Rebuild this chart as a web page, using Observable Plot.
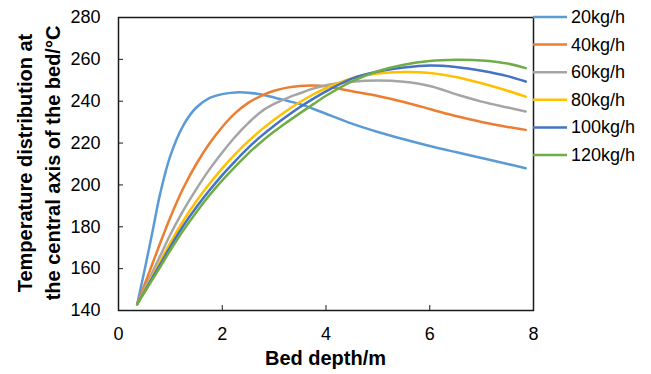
<!DOCTYPE html>
<html>
<head>
<meta charset="utf-8">
<script src="https://cdn.jsdelivr.net/npm/d3@7"></script>
<script src="https://cdn.jsdelivr.net/npm/@observablehq/plot@0.6"></script>
<style>
  html, body { margin: 0; padding: 0; background: #fff; }
  #chart { width: 651px; height: 374px; }
  svg text { font-family: "Liberation Sans", Arial, sans-serif; }
</style>
</head>
<body>
<div id="chart"></div>
<script>
// Bed depth (m) at which the temperature profiles are sampled
const depth = [0.36, 0.5, 0.65, 0.8, 1.0, 1.25, 1.5, 1.75, 2.0, 2.25, 2.5, 2.75, 3.0,
               3.25, 3.5, 3.75, 4.0, 4.5, 5.0, 5.5, 6.0, 6.5, 7.0, 7.5, 7.85];

// Temperature on the central axis of the bed (°C), one array per feed rate
const t20  = [143, 159, 177, 195.5, 214, 228.5, 237, 241.5, 243.4, 244.2, 244.1, 243.2, 241.8,
              240.2, 238.6, 236.4, 234, 229.3, 225.3, 221.8, 218.6, 215.7, 212.9, 210, 208];
const t40  = [143, 152.2, 162.1, 172, 184.6, 198.5, 210, 219.7, 227.7, 234.3, 239.2, 242.6, 245,
              246.5, 247.3, 247.5, 247.1, 244.8, 242.5, 239.6, 236.3, 232.9, 230.1, 227.7, 226.3];
const t60  = [143, 150.3, 158.1, 165.9, 176.3, 187.8, 198, 207.3, 215.5, 223, 229.5, 235, 238.7,
              241.5, 243.8, 246, 247.6, 249.3, 249.9, 249.3, 247.3, 243.4, 239.8, 237, 235.1];
const t80  = [143, 149.4, 156.3, 163.2, 172.4, 182.9, 192.2, 200.4, 207.9, 214.7, 220.8, 226.3, 231.2,
              235.6, 239.6, 243.2, 246.2, 251, 253.2, 253.9, 253.5, 251.6, 248.6, 245, 242.2];
const t100 = [143, 149, 155.5, 161.9, 170.5, 180.5, 189.3, 197.3, 204.7, 211.4, 217.7, 223.3, 228.3,
              232.9, 237.2, 241.1, 244.7, 250.8, 254.2, 256.1, 257.1, 256.4, 254.6, 252, 249.4];
const t120 = [143, 148.6, 154.6, 160.6, 168.8, 178.3, 187, 195, 202.2, 208.8, 215, 220.5, 225.5,
              230, 234.3, 238.5, 242.6, 249.5, 254.3, 257.4, 259.2, 259.8, 259.5, 258, 255.8];

const seriesLabels = ["20kg/h", "40kg/h", "60kg/h", "80kg/h", "100kg/h", "120kg/h"];
const xTicks = [0, 2, 4, 6, 8];
const yTicks = [140, 160, 180, 200, 220, 240, 260, 280];

// Long-format table for Plot
const seriesValues = [t20, t40, t60, t80, t100, t120];
const rows = seriesLabels.flatMap((name, i) =>
  depth.map((d, j) => ({series: name, depth: d, temp: seriesValues[i][j]})));

const palette = ["#5B9BD5", "#ED7D31", "#A5A5A5", "#FFC000", "#4472C4", "#70AD47"];
const axisColor = "#1a1a1a";

const chart = Plot.plot({
  width: 651,
  height: 374,
  marginLeft: 118,
  marginRight: 118,
  marginTop: 17,
  marginBottom: 64,
  style: {fontFamily: '"Liberation Sans", Arial, sans-serif', fontSize: "18px", color: axisColor, background: "#fff"},
  x: {domain: [0, 8]},
  y: {domain: [140, 280]},
  color: {domain: seriesLabels, range: palette},
  marks: [
    Plot.line(rows, {x: "depth", y: "temp", z: "series", stroke: "series", strokeWidth: 2.5, curve: "catmull-rom"}),
    Plot.frame({stroke: axisColor, strokeWidth: 1.5}),
    Plot.axisX(xTicks, {tickSize: -5, tickPadding: 22, label: null, fontSize: 18, fill: "#000"}),
    Plot.axisY(yTicks, {tickSize: -5, tickPadding: 23, label: null, fontSize: 18, fill: "#000"})
  ]
});

document.getElementById("chart").appendChild(chart);

const svg = d3.select(chart);

// Axis titles
svg.append("text")
  .attr("x", 325.5).attr("y", 365)
  .attr("text-anchor", "middle")
  .attr("font-size", 20).attr("font-weight", "bold").attr("fill", "#000")
  .text("Bed depth/m");

const yTitle = svg.append("g").attr("transform", "translate(0,163) rotate(-90)");
yTitle.append("text")
  .attr("x", 0).attr("y", 25)
  .attr("text-anchor", "middle").attr("dominant-baseline", "central")
  .attr("font-size", 20).attr("font-weight", "bold").attr("fill", "#000")
  .text("Temperature distribution at");
yTitle.append("text")
  .attr("x", 0).attr("y", 53)
  .attr("text-anchor", "middle").attr("dominant-baseline", "central")
  .attr("font-size", 20).attr("font-weight", "bold").attr("fill", "#000")
  .text("the central axis of the bed/°C");

// Legend on the right of the plot frame
const legend = svg.append("g").attr("transform", "translate(533,17)");
seriesLabels.forEach((name, i) => {
  const row = legend.append("g").attr("transform", `translate(0,${i * 27.6})`);
  row.append("line")
    .attr("x1", 0).attr("x2", 34).attr("y1", 0).attr("y2", 0)
    .attr("stroke", palette[i]).attr("stroke-width", 2.5);
  row.append("text")
    .attr("x", 38).attr("y", 0)
    .attr("text-anchor", "start")
    .attr("dominant-baseline", "central")
    .attr("font-size", 18).attr("fill", "#000")
    .text(name);
});
</script>
</body>
</html>
